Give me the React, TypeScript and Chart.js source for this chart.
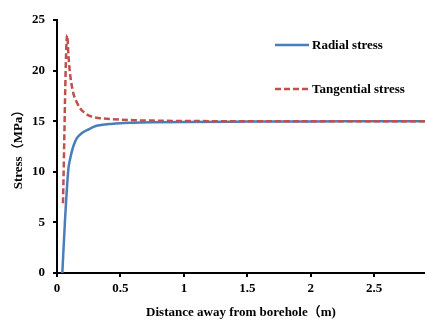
import React, { useEffect, useRef } from "react";
import { Chart, registerables } from "chart.js";

Chart.register(...registerables);

const radialX = [0.042, 0.063, 0.089, 0.102, 0.128, 0.155, 0.194, 0.25, 0.3, 0.44, 0.6, 0.8, 1.0, 1.5, 2.0, 2.5, 2.9];
const radialY = [0, 5.2, 10.2, 11.2, 12.5, 13.3, 13.8, 14.2, 14.5, 14.75, 14.85, 14.9, 14.93, 14.96, 14.98, 14.99, 15.0];

const tangentialX = [0.047, 0.08, 0.09, 0.1, 0.128, 0.155, 0.181, 0.22, 0.273, 0.34, 0.43, 0.6, 0.8, 1.0, 1.5, 2.0, 2.9];
const tangentialY = [6.9, 23.5, 21.5, 20.0, 17.8, 16.9, 16.3, 15.8, 15.45, 15.3, 15.2, 15.1, 15.05, 15.02, 15.0, 15.0, 15.0];

const xTicks = [0, 0.5, 1, 1.5, 2, 2.5];
const yTicks = [0, 5, 10, 15, 20, 25];

const seriesNames = ["Radial stress", "Tangential stress"];
const xTitle = "Distance away from borehole（m)";
const yTitle = "Stress（MPa）";

const FONT = "'Liberation Serif', 'Noto Sans CJK SC', serif";

const legendPlugin = {
  id: "insideLegend",
  afterDraw(chart: any) {
    const ctx = chart.ctx;
    const rows = [45, 89];
    ctx.save();
    chart.data.datasets.forEach((ds: any, i: number) => {
      const y = rows[i];
      ctx.beginPath();
      ctx.strokeStyle = ds.borderColor;
      ctx.lineWidth = ds.borderWidth;
      ctx.setLineDash(ds.borderDash || []);
      ctx.moveTo(275, y);
      ctx.lineTo(309, y);
      ctx.stroke();
      ctx.setLineDash([]);
      ctx.fillStyle = "#000";
      ctx.font = `bold 13px ${FONT}`;
      ctx.textBaseline = "middle";
      ctx.textAlign = "left";
      ctx.fillText(ds.label, 312, y + 1);
    });
    ctx.restore();
  },
};

export default function App() {
  const ref = useRef<HTMLCanvasElement>(null);
  useEffect(() => {
    if (!ref.current) return;
    const chart = new Chart(ref.current, {
      type: "line",
      data: {
        datasets: [
          {
            label: seriesNames[0],
            data: radialX.map((x, i) => ({ x, y: radialY[i] })),
            borderColor: "#4A7EBB",
            borderWidth: 2.5,
            pointRadius: 0,
            cubicInterpolationMode: "monotone",
            fill: false,
            order: 2,
          },
          {
            label: seriesNames[1],
            data: tangentialX.map((x, i) => ({ x, y: tangentialY[i] })),
            borderColor: "#C0504D",
            borderWidth: 2.5,
            borderDash: [6, 3],
            pointRadius: 0,
            cubicInterpolationMode: "monotone",
            fill: false,
            order: 1,
          },
        ],
      },
      options: {
        responsive: false,
        animation: false,
        layout: { padding: { top: 20, right: 0, bottom: 0, left: 0 } },
        plugins: { legend: { display: false }, tooltip: { enabled: false } },
        scales: {
          x: {
            type: "linear",
            min: 0,
            max: 2.9,
            afterBuildTicks: (s: any) => {
              s.ticks = xTicks.map((v) => ({ value: v }));
            },
            afterFit: (s: any) => {
              s.height = 47;
            },
            ticks: {
              color: "#000",
              font: { family: FONT, size: 13, weight: "bold" },
              padding: 4,
              maxRotation: 0,
              callback: (v: any) => String(v),
            },
            grid: { drawOnChartArea: false, drawTicks: true, tickLength: 4, color: "#000", lineWidth: 2 },
            border: { color: "#000", width: 2 },
            title: {
              display: true,
              text: xTitle,
              color: "#000",
              font: { family: FONT, size: 13, weight: "bold" },
              padding: { top: 0, bottom: 0 },
            },
          },
          y: {
            type: "linear",
            min: 0,
            max: 25,
            afterBuildTicks: (s: any) => {
              s.ticks = yTicks.map((v) => ({ value: v }));
            },
            afterFit: (s: any) => {
              s.width = 57;
            },
            ticks: {
              color: "#000",
              font: { family: FONT, size: 13, weight: "bold" },
              padding: 8,
            },
            grid: { drawOnChartArea: false, drawTicks: true, tickLength: 4, color: "#000", lineWidth: 2 },
            border: { color: "#000", width: 2 },
            title: {
              display: true,
              text: yTitle,
              color: "#000",
              font: { family: FONT, size: 13, weight: "bold" },
              padding: { top: 11, bottom: 0 },
            },
          },
        },
      },
      plugins: [legendPlugin],
    });
    return () => chart.destroy();
  }, []);
  return (
    <div style={{ position: "absolute", left: 0, top: 0, width: 425, height: 320, background: "#fff" }}>
      <canvas ref={ref} width={425} height={320} style={{ display: "block" }} />
    </div>
  );
}
